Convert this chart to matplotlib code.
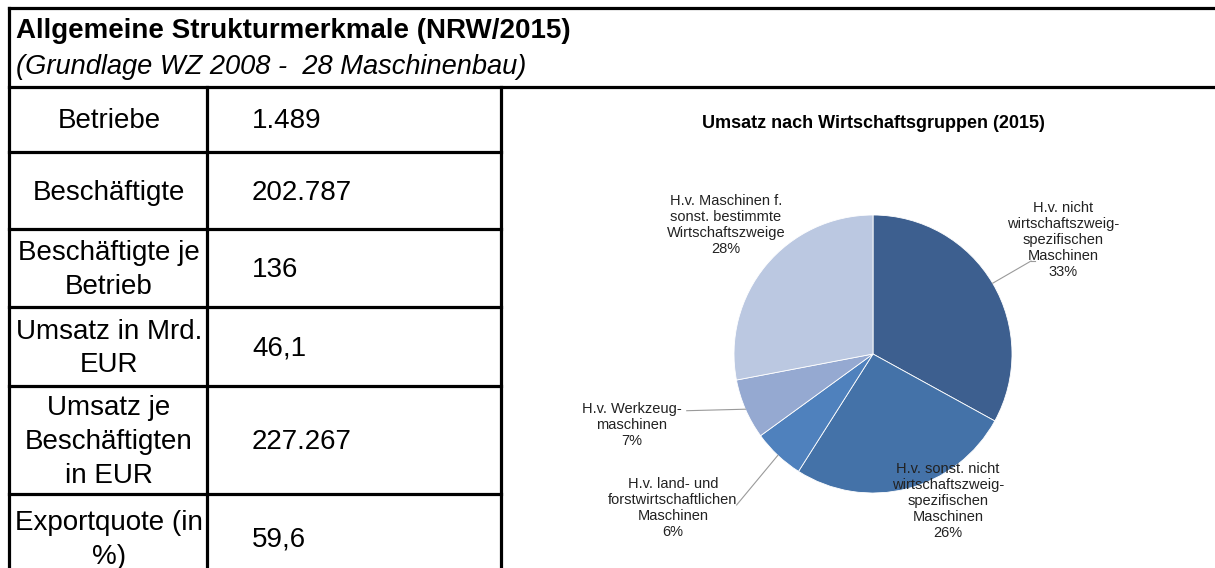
import numpy as np
import matplotlib
matplotlib.use("Agg")
import matplotlib.pyplot as plt

plt.rcParams['font.family'] = ['Liberation Sans', 'DejaVu Sans']

# --- data -------------------------------------------------------------
title = "Allgemeine Strukturmerkmale (NRW/2015)"
subtitle = "(Grundlage WZ 2008 -  28 Maschinenbau)"

row_labels = ["Betriebe", "Beschäftigte", "Beschäftigte je\nBetrieb",
              "Umsatz in Mrd.\nEUR", "Umsatz je\nBeschäftigten\nin EUR",
              "Exportquote (in\n%)"]
row_values = ["1.489", "202.787", "136", "46,1", "227.267", "59,6"]

pie_title = "Umsatz nach Wirtschaftsgruppen (2015)"
pie_names = ["H.v. nicht\nwirtschaftszweig-\nspezifischen\nMaschinen",
             "H.v. sonst. nicht\nwirtschaftszweig-\nspezifischen\nMaschinen",
             "H.v. land- und\nforstwirtschaftlichen\nMaschinen",
             "H.v. Werkzeug-\nmaschinen",
             "H.v. Maschinen f.\nsonst. bestimmte\nWirtschaftszweige"]
pie_shares = [33, 26, 6, 7, 28]
pie_colors = ["#3D5F8F", "#4472A8", "#4F81BD", "#95A9D1", "#BBC8E1"]

# label block centres and leader anchors (in pie radius units)
label_pos = [(1.367, 0.82), (0.54, -1.058), (-1.44, -1.108),
             (-1.734, -0.51), (-1.058, 0.928)]
leader_end = [(1.137, 0.669), None, (-0.981, -1.086), (-1.340, -0.408), None]

# --- layout (pixels) ----------------------------------------------------
W, H = 1215, 568
row_edges = [87, 152, 229, 307, 386, 494, 582]
col_x = [9, 207, 501]
lw = 2.3

fig = plt.figure(figsize=(W / 100, H / 100), dpi=100)
ax = fig.add_axes([0, 0, 1, 1])
ax.set_xlim(0, W)
ax.set_ylim(H, 0)
ax.axis('off')

# frame of header and table
ax.plot([col_x[0], W], [8, 8], color='black', lw=lw, solid_capstyle='projecting')
ax.plot([col_x[0], W], [row_edges[0], row_edges[0]], color='black', lw=lw)
ax.plot([col_x[0], col_x[0]], [8, H], color='black', lw=lw, solid_capstyle='projecting')
for y in row_edges[1:-1]:
    ax.plot([col_x[0], col_x[2]], [y, y], color='black', lw=lw, solid_capstyle='projecting')
for x in col_x[1:]:
    ax.plot([x, x], [row_edges[0], H], color='black', lw=lw, solid_capstyle='projecting')

ax.text(16, 31, title, fontsize=20, fontweight='bold', ha='left', va='center')
ax.text(16, 67, subtitle, fontsize=19.6, fontstyle='italic', ha='left', va='center')

for i, (lab, val) in enumerate(zip(row_labels, row_values)):
    yc = (row_edges[i] + row_edges[i + 1]) / 2 + 2
    ax.text((col_x[0] + col_x[1]) / 2 + 1, yc, lab, fontsize=20, ha='center',
            va='center', linespacing=1.38)
    ax.text(252, yc, val, fontsize=20, ha='left', va='center')

ax.text(873, 123, pie_title, fontsize=13, fontweight='bold', ha='center', va='center')

# --- pie ----------------------------------------------------------------
cx, cy, r = 873, 354, 139
pax = fig.add_axes([(cx - r) / W, (H - cy - r) / H, 2 * r / W, 2 * r / H])
wedges, _ = pax.pie(pie_shares, colors=pie_colors, startangle=90, counterclock=False,
                    wedgeprops=dict(edgecolor='white', linewidth=0.6))
pax.set_xlim(-1, 1)
pax.set_ylim(-1, 1)
pax.axis('off')

for w, name, share, pos, end in zip(wedges, pie_names, pie_shares, label_pos, leader_end):
    pax.text(pos[0], pos[1], f"{name}\n{share}%", fontsize=10.5, ha='center',
             va='center', linespacing=1.2, color='#222222', clip_on=False)
    if end is not None:
        mid = np.deg2rad((w.theta1 + w.theta2) / 2)
        pax.plot([np.cos(mid), end[0]], [np.sin(mid), end[1]], color='#9A9A9A',
                 lw=0.8, clip_on=False)

pax.plot([leader_end[0][0], leader_end[0][0] + 0.03], [leader_end[0][1]] * 2,
         color='#9A9A9A', lw=0.8, clip_on=False)

fig.savefig("out.png", dpi=100)
